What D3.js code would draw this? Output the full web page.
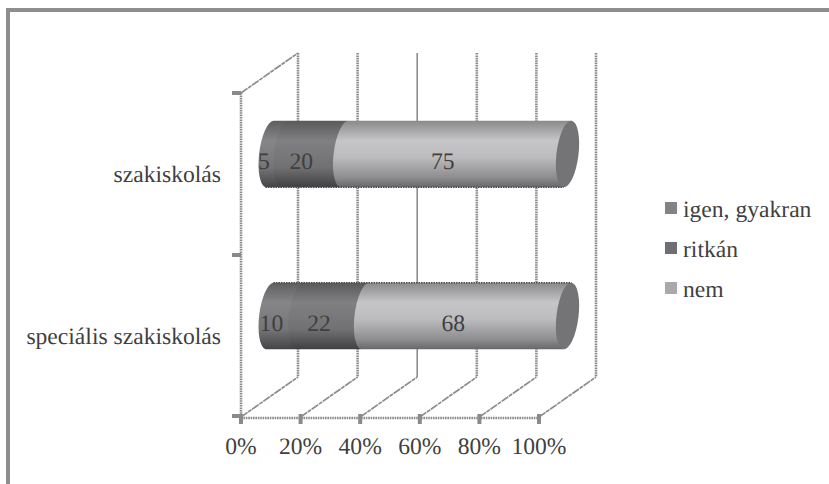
<!DOCTYPE html>
<html>
<head>
<meta charset="utf-8">
<script src="https://cdn.jsdelivr.net/npm/d3@7"></script>
<style>
  html, body { margin: 0; padding: 0; background: #fff; }
  svg { display: block; }
  text { font-family: "Liberation Serif", serif; fill: #3f3f3f; text-rendering: geometricPrecision; }
</style>
</head>
<body>
<svg id="chart" width="829" height="484"></svg>
<script>
const categories = ["szakiskolás", "speciális szakiskolás"];
const seriesNames = ["igen, gyakran", "ritkán", "nem"];
const igenGyakran = [5, 10];
const ritkan = [20, 22];
const nem = [75, 68];
const tickValues = [0, 20, 40, 60, 80, 100];

const seriesValues = [igenGyakran, ritkan, nem];
const legendColors = ["#828287", "#6f6f73", "#a9a9ad"];
const labelSize = 23.6;

const svg = d3.select("#chart");

// Outer frame: only the top and left edges are drawn
svg.append("path")
  .attr("d", "M6,10H829M8,10V484")
  .attr("fill", "none").attr("stroke", "#8e8e90").attr("stroke-width", 4);

// Front plane scales; the depth offset shifts marks into the 3D box
const x = d3.scaleLinear().domain([0, 100]).range([241, 539]);
const y = d3.scaleBand().domain(categories).range([93, 417]).paddingInner(0.59).paddingOuter(0.295);
const depth = { dx: 57, dy: -40 };
const mid = { dx: depth.dx / 2, dy: depth.dy / 2 };

const [yTop, yBottom] = y.range();
const gridColor = "#8c8c8c";
const grid = svg.append("g").attr("fill", "none").attr("stroke", gridColor);
const diagonalDash = "8 0.8 4 0.8";

// Back wall verticals and floor diagonals
tickValues.forEach(t => {
  const px = x(t);
  grid.append("path")
    .attr("d", `M${px + depth.dx},${yTop + depth.dy}V${yBottom + depth.dy}`)
    .attr("stroke-width", t === 40 ? 1.6 : 2.6)
    .attr("stroke-dasharray", t === 40 ? null : "1.6 0.8");
  grid.append("path")
    .attr("d", d3.line()([[px, yBottom], [px + depth.dx, yBottom + depth.dy]]))
    .attr("stroke-width", 1.7).attr("stroke-dasharray", diagonalDash);
});

// Left wall and floor front edge
grid.append("path")
  .attr("d", `M${x(0)},${yTop}V${yBottom}`)
  .attr("stroke-width", 2.6).attr("stroke-dasharray", "1.6 0.8");
grid.append("path")
  .attr("d", `M${x(0)},${yTop}L${x(0) + depth.dx},${yTop + depth.dy}`)
  .attr("stroke-width", 1.7).attr("stroke-dasharray", diagonalDash);
grid.append("path")
  .attr("d", `M${x(0)},${yBottom + 1}H${x(100)}`)
  .attr("stroke-width", 2.6).attr("stroke-dasharray", "1.6 0.8");

// Tick marks on both axes
const tickMarks = svg.append("g").attr("stroke", "#8a8a8a").attr("stroke-width", 4);
tickValues.forEach(t => {
  tickMarks.append("line").attr("x1", x(t)).attr("x2", x(t)).attr("y1", yBottom - 3).attr("y2", yBottom + 7);
});
[yTop, yTop + (yBottom - yTop) / 2, yBottom - 1].forEach(v => {
  tickMarks.append("line").attr("x1", x(0) - 9).attr("x2", x(0)).attr("y1", v).attr("y2", v);
});

// Cylinder shading
const defs = svg.append("defs");
function addShade(id, stops) {
  const g = defs.append("linearGradient").attr("id", id).attr("x1", 0).attr("x2", 0).attr("y1", 0).attr("y2", 1);
  stops.forEach(([o, c]) => g.append("stop").attr("offset", o).attr("stop-color", c));
}
addShade("shade0", [[0, "#5e5e60"], [0.3, "#868688"], [0.7, "#757577"], [1, "#444446"]]);
addShade("shade1", [[0, "#5a5a5c"], [0.3, "#808082"], [0.7, "#717173"], [1, "#404042"]]);
addShade("shade2", [[0, "#8a8a8c"], [0.3, "#c6c6c8"], [0.55, "#bcbcbe"], [0.85, "#8e8e90"], [1, "#68686a"]]);

const rx = 11;
const lean = 4;
const tilt = 7;
const barX = v => x(v) + mid.dx;

categories.forEach((cat, ci) => {
  const top = y(cat) + mid.dy;
  const h = y.bandwidth();
  const bottom = top + h;
  const ry = h / 2 + 0.3;
  const bar = svg.append("g");
  let sum = 0;
  seriesValues.forEach((vals, si) => {
    const x0 = barX(sum);
    const x1 = barX(sum + vals[ci]);
    bar.append("path")
      .attr("d", `M${x1 + lean},${top}H${x0 + lean}A${rx},${ry} ${tilt} 0 0 ${x0 - lean},${bottom}H${x1 - lean}Z`)
      .attr("fill", `url(#shade${si})`);
    sum += vals[ci];
  });
  // Right end cap, leaning with the cylinder
  bar.append("ellipse")
    .attr("cx", barX(100)).attr("cy", top + h / 2).attr("rx", rx).attr("ry", ry)
    .attr("transform", `rotate(${tilt} ${barX(100)} ${top + h / 2})`)
    .attr("fill", "#747476");
  // Dotted rim along the edge facing the gap between bars
  const rimY = ci === 0 ? bottom : top;
  const rimShift = ci === 0 ? -lean : lean;
  bar.append("line")
    .attr("x1", barX(0) + rimShift).attr("x2", barX(100) + rimShift).attr("y1", rimY).attr("y2", rimY)
    .attr("stroke", "#4a4a4c").attr("stroke-width", 1.5).attr("stroke-dasharray", "1.5 1");

  // Value labels
  sum = 0;
  seriesValues.forEach(vals => {
    bar.append("text")
      .attr("x", barX(sum + vals[ci] / 2) - 13)
      .attr("y", top + h / 2 + 15)
      .attr("text-anchor", "middle")
      .attr("font-size", labelSize)
      .text(vals[ci]);
    sum += vals[ci];
  });
});

// Category labels
categories.forEach(cat => {
  svg.append("text")
    .attr("x", 221).attr("y", y(cat) + y.bandwidth() / 2 + 8)
    .attr("text-anchor", "end").attr("font-size", labelSize)
    .text(cat);
});

// Value axis labels
tickValues.forEach(t => {
  svg.append("text")
    .attr("x", x(t)).attr("y", 454)
    .attr("text-anchor", "middle").attr("font-size", labelSize)
    .text(t + "%");
});

// Legend
const legendY = d3.scalePoint().domain(seriesNames).range([208, 288]);
seriesNames.forEach((name, i) => {
  svg.append("rect")
    .attr("x", 665).attr("y", legendY(name) - 6).attr("width", 12).attr("height", 12)
    .attr("fill", legendColors[i]);
  svg.append("text")
    .attr("x", 683).attr("y", legendY(name) + 8.5)
    .attr("font-size", labelSize)
    .text(name);
});
</script>
</body>
</html>
